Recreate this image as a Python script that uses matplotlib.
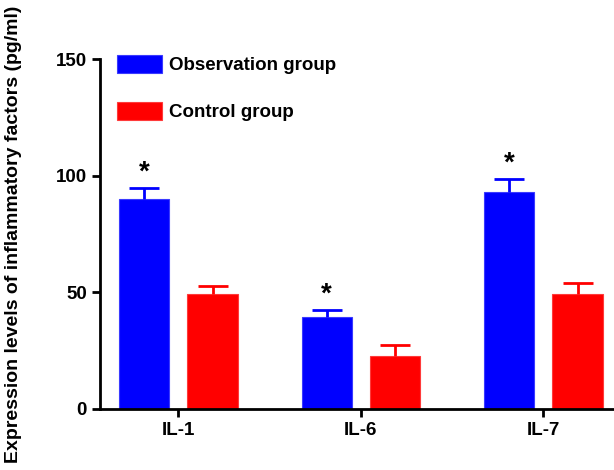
import matplotlib.pyplot as plt
import numpy as np

plt.rcParams['font.family'] = ['Liberation Sans', 'DejaVu Sans']
plt.rcParams['font.weight'] = 'bold'

categories = ['IL-1', 'IL-6', 'IL-7']
observation = [90.0, 39.6, 93.1]
observation_err = [4.8, 2.9, 5.7]
control = [49.2, 22.7, 49.2]
control_err = [3.7, 4.8, 4.6]
groups = ['Observation group', 'Control group']
stars = ['*', '*', '*']

fig = plt.figure(figsize=(6.14, 4.70), dpi=100)
ax = fig.add_axes([0.163, 0.130, 0.837, 0.744])

x = np.arange(len(categories))
w = 0.274
off = 0.187

ax.bar(x - off, observation, w, color='#0000ff', edgecolor='#3a3aff', linewidth=0.8,
       label=groups[0])
ax.bar(x + off, control, w, color='#ff0000', edgecolor='#ff3a3a', linewidth=0.8,
       label=groups[1])
for xs, vals, errs, c in [(x - off, observation, observation_err, '#0000ff'),
                          (x + off, control, control_err, '#ff0000')]:
    eb = ax.errorbar(xs, vals, yerr=[np.zeros(3), errs], fmt='none',
                     ecolor=c, elinewidth=2, capsize=11, capthick=2)
    # drop the cap sitting on the bar top
    for cl in eb[1]:
        if np.allclose(cl.get_ydata(), vals):
            cl.set_visible(False)

for i in range(len(categories)):
    ax.text(x[i] - off, observation[i] + observation_err[i] + 6.5, stars[i],
            ha='center', va='center', fontsize=20, fontweight='bold')

ax.set_xlim(-0.429, 2.387)
ax.set_ylim(0, 150)
ax.set_yticks([0, 50, 100, 150])
ax.set_xticks(x)
ax.set_xticklabels(categories)
ax.tick_params(axis='both', labelsize=13.5, width=2, length=6, direction='out')
ax.set_ylabel('Expression levels of inflammatory factors (pg/ml)', fontsize=14,
              fontweight='bold', labelpad=10)
ax.yaxis.set_label_coords(-0.152, 0.5)
ax.spines['top'].set_visible(False)
ax.spines['right'].set_visible(False)
ax.spines['left'].set_linewidth(2)
ax.spines['bottom'].set_linewidth(2)

leg = ax.legend(loc='upper left', bbox_to_anchor=(0.0, 1.06), frameon=False,
                fontsize=13.5, handlelength=2.4, handleheight=1.1,
                labelspacing=1.45, handletextpad=0.35)

fig.savefig('out.png', dpi=100)
